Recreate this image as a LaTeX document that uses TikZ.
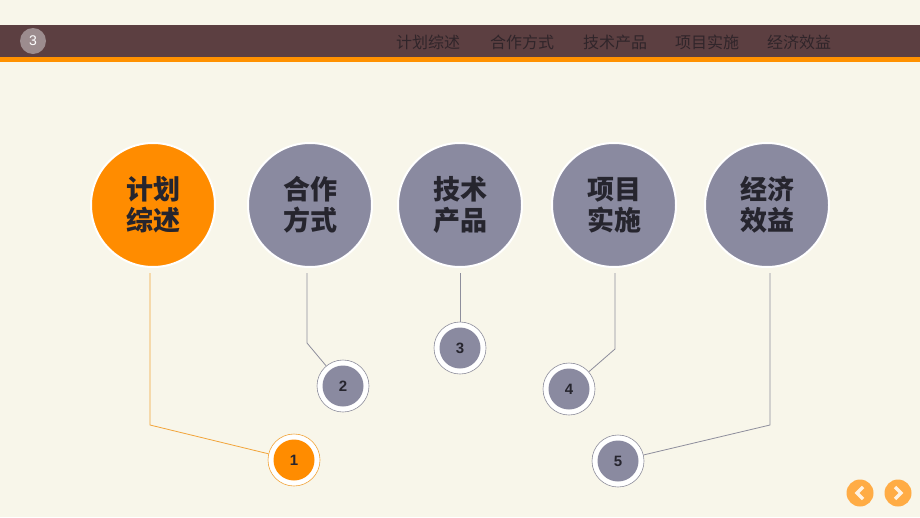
\documentclass[tikz,border=0pt]{standalone}
\usepackage{fontspec}
\usepackage{tikz}
\usetikzlibrary{positioning,calc}
\newfontfamily\cjk{Noto Sans CJK SC}
\setmainfont{Liberation Sans}

\definecolor{paper}{HTML}{F8F6EA}
\definecolor{barbrown}{HTML}{5C3F41}
\definecolor{barorange}{HTML}{FF9100}
\definecolor{keyorange}{HTML}{FF8C00}
\definecolor{keygray}{HTML}{8A8AA0}
\definecolor{inkdark}{HTML}{26252E}
\definecolor{tabink}{HTML}{30252A}
\definecolor{linkgray}{HTML}{8E8E9C}
\definecolor{linkorange}{HTML}{F2A43A}
\definecolor{navorange}{HTML}{FFAC45}
\definecolor{pagegray}{HTML}{9C8C8E}

\tikzset{
  topic/.style={circle,minimum size=124pt,draw=white,line width=2pt,
                align=center,text=inkdark,font=\cjk\bfseries\fontsize{27}{31}\selectfont},
  tab/.style={text=tabink,font=\cjk\fontsize{16}{18}\selectfont},
  ringout/.style={circle,minimum size=52pt,fill=white,draw=#1,line width=0.6pt},
  ringin/.style={circle,minimum size=41pt,fill=#1,inner sep=0pt,
                 text=inkdark,font=\bfseries\fontsize{15}{16}\selectfont},
  link/.style={draw=#1,line width=0.8pt,shorten <=5pt},
  navbtn/.style={circle,minimum size=27pt,fill=navorange,inner sep=0pt}
}

\begin{document}
\begin{tikzpicture}[x=1pt,y=-1pt]
            \useasboundingbox (0,0) rectangle (920,517);
            \fill[paper] (0,0) rectangle (920,517);

            % header bar
            \fill[barbrown] (0,25) rectangle (920,57);
            \fill[barorange] (0,57) rectangle (920,62);
            \node[circle,fill=pagegray,minimum size=26pt,inner sep=0pt,
                  text=white,font=\fontsize{14}{16}\selectfont] (pg) at (33,41) {3};
            \node[tab] (tab1) at (428,42) {计划综述};
            \node[tab] (tab2) at (522,42) {合作方式};
            \node[tab] (tab3) at (615,42) {技术产品};
            \node[tab] (tab4) at (707,42) {项目实施};
            \node[tab] (tab5) at (799,42) {经济效益};

            % topic circles
            \node[topic,fill=keyorange] (t1) at (153,205) {计划\\综述};
            \node[topic,fill=keygray]   (t2) at (310,205) {合作\\方式};
            \node[topic,fill=keygray]   (t3) at (460,205) {技术\\产品};
            \node[topic,fill=keygray]   (t4) at (614,205) {项目\\实施};
            \node[topic,fill=keygray]   (t5) at (767,205) {经济\\效益};

            % numbered rings
            \node[ringout=linkorange] (s1) at (294,460) {};
            \node[ringout=linkgray]   (s2) at (343,386) {};
            \node[ringout=linkgray]   (s3) at (460,348) {};
            \node[ringout=linkgray]   (s4) at (569,389) {};
            \node[ringout=linkgray]   (s5) at (618,461) {};
            \node[ringin=keyorange] (n1) at (s1) {1};
            \node[ringin=keygray]   (n2) at (s2) {2};
            \node[ringin=keygray]   (n3) at (s3) {3};
            \node[ringin=keygray]   (n4) at (s4) {4};
            \node[ringin=keygray]   (n5) at (s5) {5};

            % leader lines
            \coordinate (k1) at (150,425);
            \coordinate (k2) at (307,343);
            \coordinate (k4) at (615,349);
            \coordinate (k5) at (770,425);
            \draw[link=linkorange] (t1.south -| k1) -- (k1) -- (s1);
            \draw[link=linkgray] (t2.south -| k2) -- (k2) -- (s2);
            \draw[link=linkgray] (t3.south) -- (s3);
            \draw[link=linkgray] (t4.south -| k4) -- (k4) -- (s4);
            \draw[link=linkgray] (t5.south -| k5) -- (k5) -- (s5);

            % navigation
            \node[navbtn] (prev) at (860,493) {};
            \node[navbtn] (next) at (898,493) {};
            \draw[white!85!navorange,line width=3.5pt] ($(prev)+(3,-6)$) -- ($(prev)+(-3,0)$) -- ($(prev)+(3,6)$);
            \draw[white!85!navorange,line width=3.5pt] ($(next)+(-3,-6)$) -- ($(next)+(3,0)$) -- ($(next)+(-3,6)$);
\end{tikzpicture}
\end{document}
